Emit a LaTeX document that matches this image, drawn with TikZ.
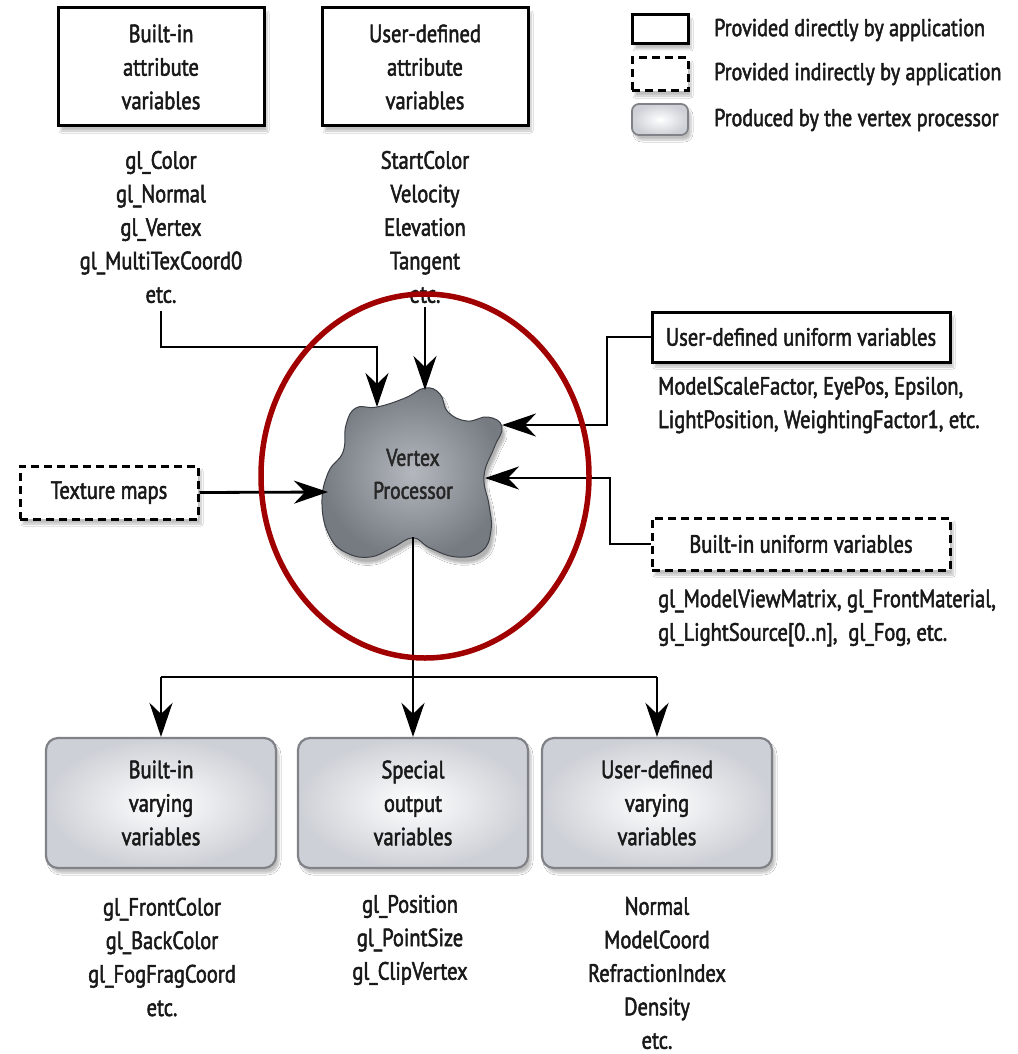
\documentclass[tikz,border=0pt]{standalone}
\usepackage{fontspec}
\setmainfont{PT Sans}[FakeStretch=0.82, FakeBold=2]
\usetikzlibrary{arrows.meta,shadows.blur}

\definecolor{ink}{RGB}{25,25,25}
\definecolor{circred}{RGB}{160,0,0}
\definecolor{outline}{RGB}{128,130,136}
\definecolor{shadeout}{RGB}{205,208,214}
\definecolor{blobin}{RGB}{180,184,190}
\definecolor{blobout}{RGB}{118,123,130}
\definecolor{blobedge}{RGB}{60,64,70}

\newcommand\bigtxt{\fontsize{25}{33.5}\selectfont}
\newcommand\legtxt{\fontsize{24.5}{28}\selectfont}
\newcommand\blobtxt{\fontsize{24}{33}\selectfont}

\tikzset{
  softshadow/.style={blur shadow={shadow xshift=3pt, shadow yshift=-5pt, shadow blur steps=6, shadow opacity=25}},
  txt/.style={align=center, font=\bigtxt, text=ink, inner sep=0pt},
  appbox/.style={txt, draw=black, line width=3pt, fill=white, softshadow},
  indbox/.style={txt, draw=black, line width=3pt, dash pattern=on 8pt off 5pt, fill=white, softshadow},
  outbox/.style={txt, draw=outline, line width=2.2pt, rounded corners=12pt,
    inner color=white, outer color=shadeout, softshadow},
  conn/.style={line width=2.8pt, draw=black},
  arr/.style={conn, -{Stealth[length=34pt, width=23pt, inset=11pt]}},
}

\begin{document}
\begin{tikzpicture}[x=1pt, y=-1pt]
\useasboundingbox (0,0) rectangle (1017,1054);
\fill[white] (0,0) rectangle (1017,1054);

% legend
\node[appbox, minimum width=56pt, minimum height=29pt] (lg1) at (660,29.5) {};
\node[indbox, minimum width=56pt, minimum height=33pt] (lg2) at (660,74.5) {};
\node[outbox, rounded corners=7pt, line width=1.8pt, minimum width=56pt, minimum height=31pt] (lg3) at (660,119.5) {};
\node[txt, font=\legtxt, anchor=west] (lt1) at (714,30) {Provided directly by application};
\node[txt, font=\legtxt, anchor=west] (lt2) at (714,74) {Provided indirectly by application};
\node[txt, font=\legtxt, anchor=west] (lt3) at (714,120) {Produced by the vertex processor};

% attribute inputs
\node[appbox, minimum width=206pt, minimum height=118pt] (bav) at (161,67) {Built-in\\attribute\\variables};
\node[appbox, minimum width=206pt, minimum height=118pt] (uav) at (425,67) {User-defined\\attribute\\variables};
\node[txt] (bavl) at (161,227) {gl\_Color\\gl\_Normal\\gl\_Vertex\\gl\_MultiTexCoord0\\etc.};
\node[txt] (uavl) at (425,227) {StartColor\\Velocity\\Elevation\\Tangent\\etc.};

% other inputs
\node[indbox, minimum width=178pt, minimum height=53pt] (tex) at (109,492.5) {Texture maps};
\node[appbox, minimum width=298pt, minimum height=50pt] (uuv) at (801,337) {User-defined uniform variables};
\node[txt, align=left, anchor=west] (uuvl) at (658,405) {ModelScaleFactor, EyePos, Epsilon,\\LightPosition, WeightingFactor1, etc.};
\node[indbox, minimum width=298pt, minimum height=52pt] (buv) at (801,544) {Built-in uniform variables};
\node[txt, align=left, anchor=west] (buvl) at (658,618) {gl\_ModelViewMatrix, gl\_FrontMaterial,\\gl\_LightSource[0..n],\ \ gl\_Fog, etc.};

% the vertex processor blob
\shade[inner color=blobin, outer color=blobout, draw=blobedge, line width=1pt,
  blur shadow={shadow xshift=3pt, shadow yshift=-6pt, shadow blur steps=8, shadow opacity=30}]
  plot[smooth cycle, tension=0.75] coordinates {
    (425,388) (440,394) (448,412) (467,421) (488,417) (502,427) (494,448)
    (484,476) (489,505) (491,530) (482,551) (457,557) (430,548) (413,538)
    (392,548) (370,557) (347,553) (330,537) (322,505) (328,473) (343,452)
    (346,425) (356,408) (377,407) (405,398)};
\node[txt, font=\blobtxt, text=black!85] (vp) at (413,474) {Vertex\\Processor};

% arrow end points on the blob outline
\coordinate (in1) at (377,407);
\coordinate (in2) at (425,390);
\coordinate (in3) at (328,492);
\coordinate (in4) at (502,425);
\coordinate (in5) at (485,478);
\coordinate (out) at (413,537);
\coordinate (bend1) at (377,347);
\coordinate (j1) at (607,425);
\coordinate (j2) at (610,478);
\coordinate (split) at (413,677);

% outputs
\node[outbox, minimum width=230pt, minimum height=130pt] (bov) at (161,803) {Built-in\\varying\\variables};
\node[outbox, minimum width=230pt, minimum height=130pt] (sov) at (413,803) {Special\\output\\variables};
\node[outbox, minimum width=230pt, minimum height=130pt] (udv) at (657,803) {User-defined\\varying\\variables};
\node[txt] (bovl) at (162,957) {gl\_FrontColor\\gl\_BackColor\\gl\_FogFragCoord\\etc.};
\node[txt] (sovl) at (410,940) {gl\_Position\\gl\_PointSize\\gl\_ClipVertex};
\node[txt] (udvl) at (657,973) {Normal\\ModelCoord\\RefractionIndex\\Density\\etc.};

% connectors
\draw[arr] ([yshift=-8pt]bavl.south) |- (bend1) -- (in1);
\draw[arr] ([yshift=-4pt]uavl.south) -- (in2);
\draw[arr] (tex.east) -- (in3);
\draw[arr] (uuv.west) -| (j1) -- (in4);
\draw[arr] (buv.west) -| (j2) -- (in5);
\draw[conn] (out) -- (split);
\draw[conn] (bov.north |- split) -- (udv.north |- split);
\draw[arr] (split) -- (sov.north);
\draw[arr] (bov.north |- split) -- (bov.north);
\draw[arr] (udv.north |- split) -- (udv.north);

% highlight ring around the processor
\draw[circred, line width=5.5pt] (425,476) ellipse [x radius=164, y radius=182];
\end{tikzpicture}
\end{document}
